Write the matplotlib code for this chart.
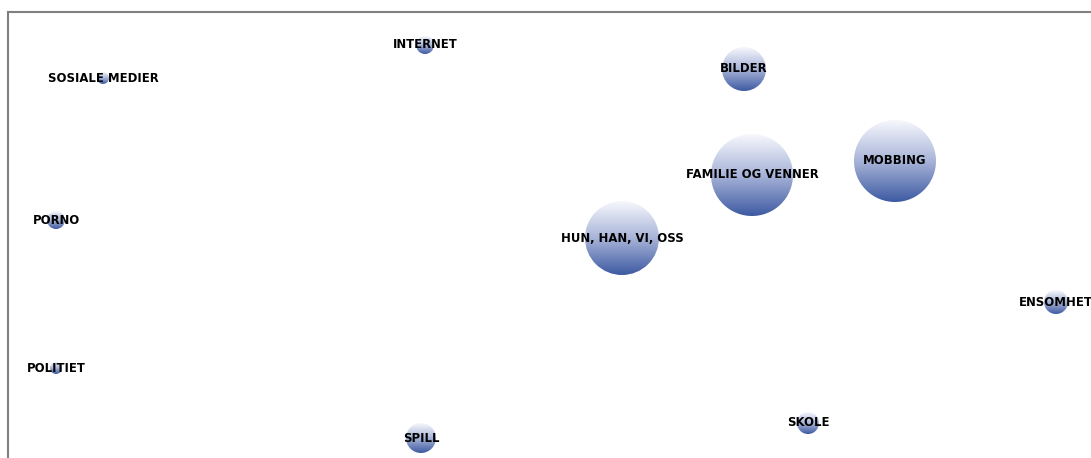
import matplotlib
matplotlib.use("Agg")
import matplotlib.pyplot as plt
import numpy as np
from matplotlib.colors import LinearSegmentedColormap
from matplotlib.patches import Circle

# DATA (positions in plot units, sizes as bubble radius)
labels = ["SOSIALE MEDIER", "INTERNET", "BILDER", "MOBBING", "FAMILIE OG VENNER",
          "HUN, HAN, VI, OSS", "PORNO", "ENSOMHET", "POLITIET", "SPILL", "SKOLE"]
x_vals = [95, 417, 736, 887, 744, 614, 48, 1048, 48, 413, 800]
y_vals = [66, 33, 57, 149, 163, 226, 208, 290, 356, 426, 411]
radius = [6, 9, 22, 41, 41, 37, 9, 12, 6, 15, 11]

W, H = 1091, 458
fig = plt.figure(figsize=(W / 100, H / 100), dpi=100)
ax = fig.add_axes([8 / W, 0, 1 - 8 / W, (H - 12) / H])

cmap = LinearSegmentedColormap.from_list("bub", ["#f7f8fd", "#a8b4d8", "#3d5aa2"])
grad = np.linspace(0, 1, 256).reshape(-1, 1)

for lab, x, y, r in zip(labels, x_vals, y_vals, radius):
    im = ax.imshow(grad, cmap=cmap, extent=(x - r, x + r, y + r, y - r),
                   origin="upper", aspect="auto", interpolation="bilinear", zorder=2)
    clip = Circle((x, y), r, transform=ax.transData)
    im.set_clip_path(clip)
    ax.text(x, y, lab, ha="center", va="center", fontsize=8.4, fontweight="bold",
            color="black", zorder=3, clip_on=False)

ax.set_xlim(0, W - 8)
ax.set_ylim(H - 12, 0)
ax.set_xticks([])
ax.set_yticks([])
for s in ["right", "bottom"]:
    ax.spines[s].set_visible(False)
for s in ["left", "top"]:
    ax.spines[s].set_color("#808080")
    ax.spines[s].set_linewidth(1.5)

fig.savefig("out.png", dpi=100)
